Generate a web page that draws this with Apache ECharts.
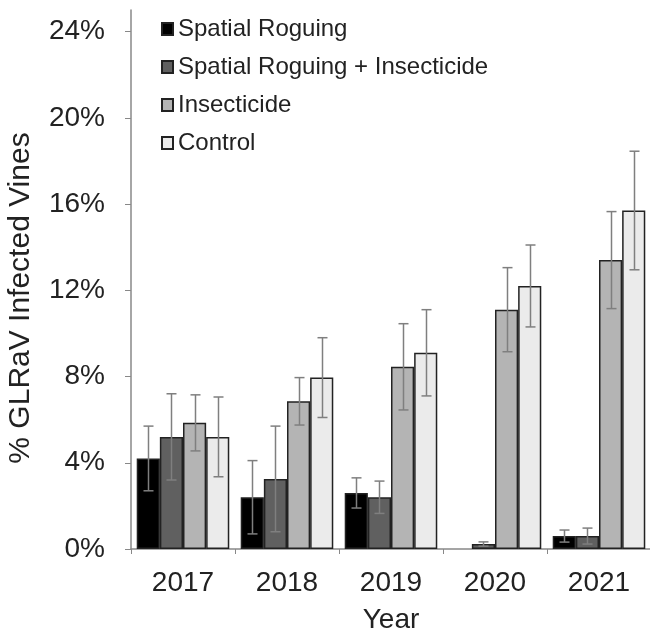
<!DOCTYPE html>
<html>
<head>
<meta charset="utf-8">
<script src="https://cdn.jsdelivr.net/npm/echarts@6/dist/echarts.min.js"></script>
<style>html,body{margin:0;padding:0;background:#fff;}#c{width:650px;height:635px;}</style>
</head>
<body>
<div id="c"></div>
<script>
const years = ['2017', '2018', '2019', '2020', '2021'];
const seriesNames = ['Spatial Roguing', 'Spatial Roguing + Insecticide', 'Insecticide', 'Control'];
const spatialRoguing = [4.2, 2.4, 2.6, 0, 0.6];
const spatialRoguingErr = [1.5, 1.7, 0.7, 0, 0.28];
const roguingInsecticide = [5.2, 3.25, 2.4, 0.23, 0.6];
const roguingInsecticideErr = [2.0, 2.45, 0.75, 0.1, 0.37];
const insecticide = [5.85, 6.85, 8.45, 11.1, 13.4];
const insecticideErr = [1.3, 1.1, 2.0, 1.95, 2.25];
const control = [5.2, 7.95, 9.1, 12.2, 15.7];
const controlErr = [1.85, 1.85, 2.0, 1.9, 2.75];
const yTicks = [0, 4, 8, 12, 16, 20, 24];
const yAxisMax = 25;

const means = [spatialRoguing, roguingInsecticide, insecticide, control];
const errs = [spatialRoguingErr, roguingInsecticideErr, insecticideErr, controlErr];
const colors = ['#000000', '#606060', '#b4b4b4', '#ebebeb'];
const catGap = 0.11;
const FONT = 'Liberation Sans, Arial, sans-serif';

const series = [];
means.forEach((m, s) => {
  series.push({
    name: seriesNames[s], type: 'bar',
    data: m.map(v => v === 0 ? { value: v, itemStyle: { borderWidth: 0 } } : v),
    barGap: '0%', barCategoryGap: (catGap * 100) + '%',
    itemStyle: { color: colors[s], borderColor: '#222', borderWidth: 1.5 },
    z: 2
  });
});
means.forEach((m, s) => {
  series.push({
    type: 'custom', name: 'err' + s, z: 5, silent: true,
    data: m.map((v, i) => [i, v, errs[s][i]]),
    renderItem: function (params, api) {
      const xi = api.value(0), v = api.value(1), e = api.value(2);
      if (!e) return null;
      const bw = api.size([1, 0])[0] * (1 - catGap) / 4;
      const c = api.coord([xi, v]);
      const x = Math.round(c[0] + (s - 1.5) * bw) + 0.5;
      const top = api.coord([xi, v + e])[1];
      const bot = api.coord([xi, Math.max(v - e, 0)])[1];
      const st = { stroke: '#7f7f7f', lineWidth: 1.5 };
      return { type: 'group', children: [
        { type: 'line', shape: { x1: x, y1: top, x2: x, y2: bot }, style: st },
        { type: 'line', shape: { x1: x - 5, y1: top, x2: x + 5, y2: top }, style: st },
        { type: 'line', shape: { x1: x - 5, y1: bot, x2: x + 5, y2: bot }, style: st }
      ]};
    }
  });
});

const chart = echarts.init(document.getElementById('c'), null, { renderer: 'canvas' });
chart.setOption({
  animation: false,
  backgroundColor: '#fff',
  textStyle: { fontFamily: FONT },
  grid: { left: 131, right: -1, top: 10, bottom: 86, containLabel: false, outerBoundsMode: 'none' },
  legend: {
    data: seriesNames, orient: 'vertical', left: 156, top: 12,
    itemWidth: 11, itemHeight: 12, itemGap: 14, icon: 'rect',
    textStyle: { fontSize: 24, color: '#222', fontFamily: FONT, lineHeight: 24 }
  },
  xAxis: {
    type: 'category', data: years,
    name: 'Year', nameLocation: 'middle', nameGap: 57,
    nameTextStyle: { fontSize: 28, color: '#222', fontFamily: FONT },
    axisLine: { lineStyle: { color: '#888', width: 1.5 } },
    axisTick: { show: true, length: 5, lineStyle: { color: '#888' } },
    axisLabel: { fontSize: 28, color: '#222', margin: 20, fontFamily: FONT }
  },
  yAxis: {
    type: 'value', min: yTicks[0], max: yAxisMax,
    name: '% GLRaV Infected Vines', nameLocation: 'middle', nameGap: 95,
    nameTextStyle: { fontSize: 30, color: '#222', fontFamily: FONT, padding: [0, 37, 0, 0] },
    axisLine: { show: true, lineStyle: { color: '#888', width: 1.5 } },
    axisTick: { show: true, length: 6, lineStyle: { color: '#888' }, customValues: yTicks },
    splitLine: { show: false },
    axisLabel: { fontSize: 28, color: '#222', margin: 26, fontFamily: FONT, customValues: yTicks, formatter: v => v + '%' }
  },
  series: series
});
</script>
</body>
</html>
